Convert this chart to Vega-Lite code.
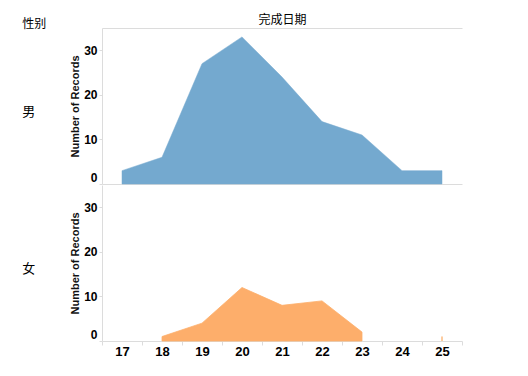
{
  "$schema": "https://vega.github.io/schema/vega-lite/v6.json",
  "padding": {"left": 22, "top": 13, "right": 5, "bottom": 5},
  "background": "white",
  "title": {"text": "性别", "anchor": "start", "frame": "bounds", "font": "Noto Sans CJK SC", "fontSize": 12, "fontWeight": "normal", "color": "#000", "offset": -18},
  "spacing": 0,
  "config": {
    "view": {"stroke": null},
    "axis": {"labelFont": "Liberation Sans", "labelFontWeight": "bold", "labelFontSize": 12, "labelColor": "#000", "domainColor": "#dcdcdc", "tickColor": "#dcdcdc", "grid": false, "titleFont": "Liberation Sans", "titleFontSize": 11, "titleFontWeight": "bold", "titleColor": "#111", "minExtent": 0}
  },
  "datasets": {
    "records": [
      {"gender": "男", "day": 17, "count": 3},
      {"gender": "男", "day": 18, "count": 6},
      {"gender": "男", "day": 19, "count": 27},
      {"gender": "男", "day": 20, "count": 33},
      {"gender": "男", "day": 21, "count": 24},
      {"gender": "男", "day": 22, "count": 14},
      {"gender": "男", "day": 23, "count": 11},
      {"gender": "男", "day": 24, "count": 3},
      {"gender": "男", "day": 25, "count": 3},
      {"gender": "女", "day": 18, "count": 1},
      {"gender": "女", "day": 19, "count": 4},
      {"gender": "女", "day": 20, "count": 12},
      {"gender": "女", "day": 21, "count": 8},
      {"gender": "女", "day": 22, "count": 9},
      {"gender": "女", "day": 23, "count": 2},
      {"gender": "女", "day": 24, "count": null},
      {"gender": "女", "day": 25, "count": 1}
    ]
  },
  "vconcat": [
    {
      "width": 360,
      "height": 156,
      "title": {"text": "男", "orient": "left", "angle": 0, "anchor": "middle", "font": "Noto Sans CJK SC", "fontSize": 13, "fontWeight": "normal", "color": "#000", "offset": 28},
      "data": {"name": "records"},
      "transform": [{"filter": "datum.gender === '男'"}],
      "layer": [
        {
          "mark": {"type": "area", "color": "#74A9CF", "stroke": "#74A9CF", "strokeWidth": 0.5, "opacity": 1},
          "encoding": {
            "x": {"field": "day", "type": "ordinal", "bandPosition": 0.5, "scale": {"type": "band", "domain": [17, 18, 19, 20, 21, 22, 23, 24, 25], "paddingInner": 0, "paddingOuter": 0}, "axis": {"orient": "bottom", "labels": false, "ticks": false, "title": null}},
            "y": {"field": "count", "type": "quantitative", "scale": {"domain": [0, 35], "nice": false}, "axis": {"values": [0, 10, 20, 30], "title": "Number of Records", "tickSize": 3, "labelPadding": 2, "titlePadding": 3, "labelBaseline": {"condition": {"test": "datum.value === 0", "value": "bottom"}, "value": "middle"}}}
          }
        },
        {
          "mark": {"type": "area", "opacity": 0},
          "encoding": {
            "x": {"field": "day", "type": "ordinal", "bandPosition": 0.5, "axis": {"orient": "top", "labels": false, "ticks": false, "title": "完成日期", "titleFont": "Noto Sans CJK SC", "titleFontSize": 12, "titleFontWeight": "normal", "titleColor": "#000", "titlePadding": 2}},
            "y": {"field": "count", "type": "quantitative"}
          }
        }
      ],
      "resolve": {"axis": {"x": "independent"}}
    },
    {
      "width": 360,
      "height": 156,
      "title": {"text": "女", "orient": "left", "angle": 0, "anchor": "middle", "font": "Noto Sans CJK SC", "fontSize": 13, "fontWeight": "normal", "color": "#000", "offset": 28},
      "data": {"name": "records"},
      "transform": [{"filter": "datum.gender === '女'"}],
      "mark": {"type": "area", "color": "#FDAE6B", "stroke": "#FDAE6B", "strokeWidth": 0.8, "opacity": 1, "invalid": "break-paths-show-domains"},
      "encoding": {
        "x": {"field": "day", "type": "ordinal", "bandPosition": 0.5, "scale": {"type": "band", "domain": [17, 18, 19, 20, 21, 22, 23, 24, 25], "paddingInner": 0, "paddingOuter": 0}, "axis": {"orient": "bottom", "title": null, "labelAngle": 0, "tickBand": "extent", "tickSize": 4, "labelPadding": 0, "labelFontSize": 13}},
        "y": {"field": "count", "type": "quantitative", "scale": {"domain": [0, 35], "nice": false}, "axis": {"values": [0, 10, 20, 30], "title": "Number of Records", "tickSize": 3, "labelPadding": 2, "titlePadding": 3, "labelBaseline": {"condition": {"test": "datum.value === 0", "value": "bottom"}, "value": "middle"}}}
      }
    }
  ]
}
